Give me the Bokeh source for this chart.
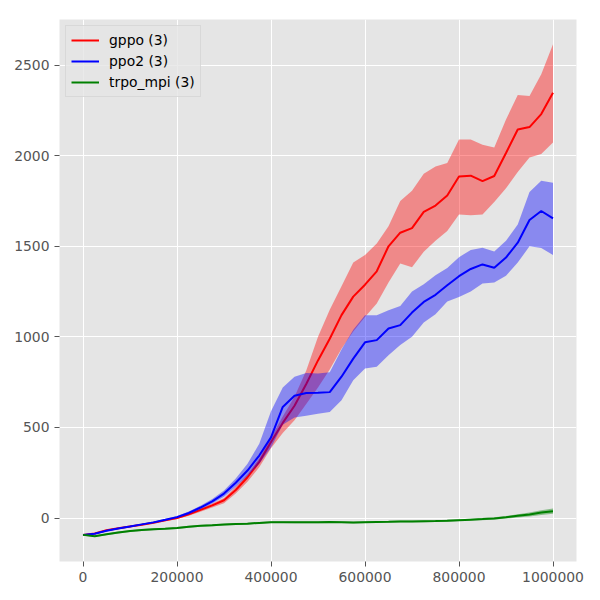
from bokeh.plotting import figure
from bokeh.models import Range1d, FixedTicker, BasicTickFormatter, Legend, LegendItem
from bokeh.embed import file_html
from bokeh.resources import INLINE

steps = list(range(0, 1000001, 25000))

x_ticks = [0, 200000, 400000, 600000, 800000, 1000000]
y_ticks = [0, 500, 1000, 1500, 2000, 2500]

gppo_mean = [-93, -85, -68, -57, -47, -37, -26, -13, 0, 20,
             45, 70, 98, 155, 225, 310, 420, 525, 620, 740,
             870, 990, 1120, 1222, 1288, 1362, 1500, 1575, 1600, 1690,
             1725, 1780, 1885, 1890, 1860, 1888, 2015, 2145, 2158, 2230,
             2348]
gppo_upper = [-90, -82, -64, -53, -43, -33, -22, -9, 5, 26,
              52, 80, 110, 172, 242, 330, 445, 560, 670, 815,
              1000, 1150, 1280, 1410, 1452, 1515, 1610, 1750, 1806, 1900,
              1940, 1960, 2090, 2090, 2060, 2045, 2200, 2335, 2330, 2450,
              2615]
gppo_lower = [-96, -88, -72, -61, -51, -41, -30, -18, -6, 12,
              35, 58, 82, 135, 200, 280, 385, 470, 540, 630,
              720, 820, 935, 1030, 1110, 1184, 1300, 1405, 1385, 1470,
              1530, 1585, 1676, 1672, 1675, 1745, 1820, 1910, 1990, 2010,
              2073]

ppo2_mean = [-93, -87, -70, -58, -47, -35, -24, -10, 5, 28,
             58, 92, 135, 195, 262, 345, 445, 613, 675, 690,
             691, 695, 780, 880, 970, 982, 1046, 1065, 1134, 1193,
             1232, 1285, 1335, 1375, 1400, 1382, 1438, 1520, 1645, 1695,
             1654]
ppo2_upper = [-90, -84, -66, -54, -43, -31, -19, -5, 11, 36,
              68, 105, 152, 218, 300, 410, 590, 720, 780, 800,
              798, 805, 930, 1040, 1119, 1119, 1147, 1170, 1250, 1290,
              1340, 1380, 1440, 1480, 1492, 1471, 1530, 1620, 1800, 1862,
              1851]
ppo2_lower = [-96, -90, -74, -62, -51, -39, -28, -15, 0, 20,
              48, 80, 118, 172, 232, 300, 390, 515, 555, 565,
              575, 585, 650, 760, 825, 835, 899, 955, 1000, 1080,
              1125, 1195, 1220, 1250, 1295, 1300, 1338, 1410, 1500, 1490,
              1452]

trpo_mean = [-93, -100, -90, -80, -72, -66, -62, -59, -55, -48,
             -43, -40, -36, -33, -31, -27, -23, -23, -24, -24,
             -24, -22, -23, -25, -23, -22, -21, -19, -19, -18,
             -17, -15, -12, -9, -6, -2, 4, 12, 20, 30,
             38]
trpo_upper = [-89, -95, -85, -75, -67, -61, -57, -54, -50, -43,
              -38, -35, -31, -28, -26, -22, -18, -18, -19, -19,
              -19, -17, -18, -20, -18, -17, -16, -14, -14, -13,
              -12, -10, -7, -4, 0, 4, 11, 21, 31, 43,
              53]
trpo_lower = [-97, -105, -95, -85, -77, -71, -67, -64, -60, -53,
              -48, -45, -41, -38, -36, -32, -28, -28, -29, -29,
              -29, -27, -28, -30, -28, -27, -26, -24, -24, -23,
              -22, -20, -17, -14, -12, -8, -3, 3, 9, 17,
              23]

series = [
    ("gppo (3)", "red", gppo_mean, gppo_upper, gppo_lower),
    ("ppo2 (3)", "blue", ppo2_mean, ppo2_upper, ppo2_lower),
    ("trpo_mpi (3)", "green", trpo_mean, trpo_upper, trpo_lower),
]

p = figure(width=590, height=591, output_backend="svg", toolbar_location=None,
           x_range=Range1d(-50000, 1050000), y_range=Range1d(-240, 2752),
           min_border_left=59, min_border_right=14, min_border_top=19,
           min_border_bottom=30)
p.background_fill_color = "#E5E5E5"
p.border_fill_color = "white"
p.outline_line_color = None
p.grid.grid_line_color = "white"
p.grid.grid_line_width = 1

p.xaxis.ticker = FixedTicker(ticks=x_ticks)
p.yaxis.ticker = FixedTicker(ticks=y_ticks)
p.xaxis.formatter = BasicTickFormatter(use_scientific=False)
p.yaxis.formatter = BasicTickFormatter(use_scientific=False)
for ax in p.axis:
    ax.axis_line_color = None
    ax.major_tick_line_color = "#555555"
    ax.major_tick_out = 5
    ax.major_tick_in = 0
    ax.minor_tick_line_color = None
    ax.major_label_text_color = "#555555"
    ax.major_label_text_font = "DejaVu Sans"
    ax.major_label_text_font_size = "13.9px"
    ax.major_label_standoff = 5

items = []
for label, color, mean, upper, lower in series:
    p.varea(x=steps, y1=lower, y2=upper, fill_color=color, fill_alpha=0.4)
    r = p.line(x=steps, y=mean, line_color=color, line_width=2)
    items.append(LegendItem(label=label, renderers=[r]))

legend = Legend(items=items, location="top_left")
legend.background_fill_color = "#E5E5E5"
legend.background_fill_alpha = 0.8
legend.border_line_color = "#CCCCCC"
legend.border_line_width = 1
legend.label_text_font = "DejaVu Sans"
legend.label_text_font_size = "13.9px"
legend.label_text_color = "#000000"
legend.glyph_width = 28
legend.glyph_height = 18
legend.label_height = 18
legend.label_standoff = 10
legend.spacing = 3
legend.padding = 5
legend.margin = 6
p.add_layout(legend)

open("out.html", "w").write(file_html(p, INLINE))
